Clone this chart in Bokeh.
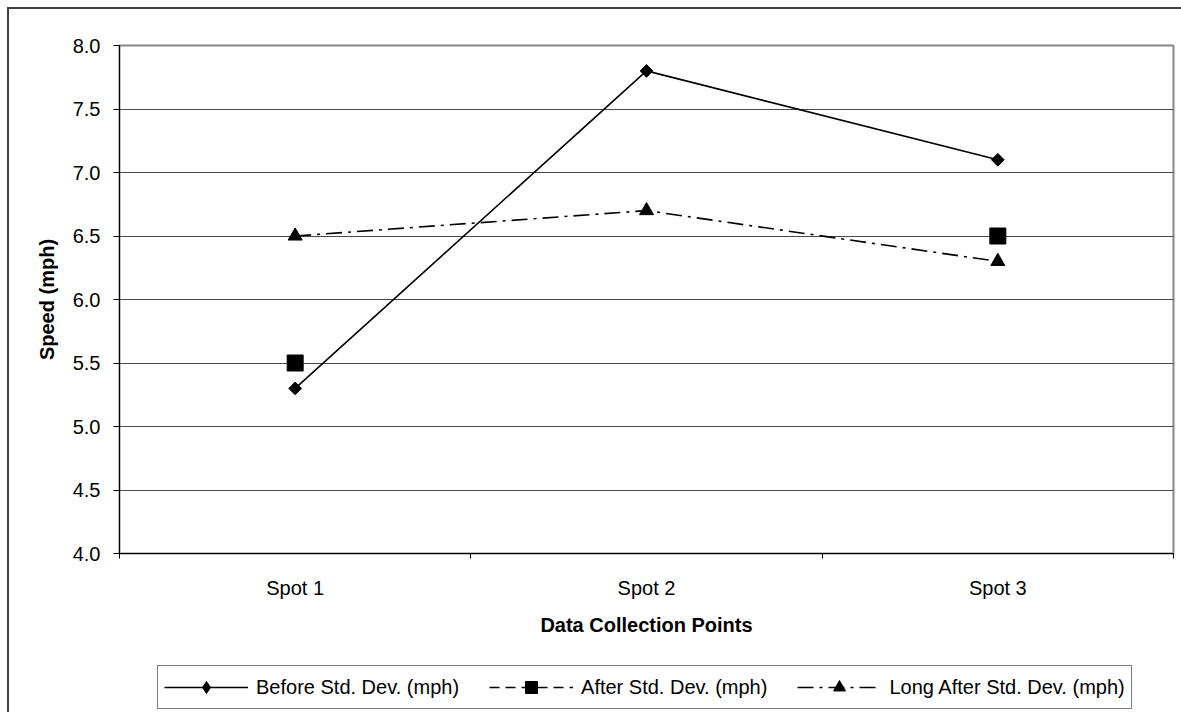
import math

from bokeh.plotting import figure
from bokeh.layouts import column
from bokeh.models import (Range1d, FixedTicker, PrintfTickFormatter, Legend, LegendItem)
from bokeh.embed import file_html
from bokeh.resources import INLINE

# Data collection points and speed standard deviations (mph)
categories = ["Spot 1", "Spot 2", "Spot 3"]
before_sd = [5.3, 7.8, 7.1]
after_sd = [5.5, float("nan"), 6.5]
long_after_sd = [6.5, 6.7, 6.3]
y_ticks = [4.0, 4.5, 5.0, 5.5, 6.0, 6.5, 7.0, 7.5, 8.0]

series_labels = ["Before Std. Dev. (mph)", "After Std. Dev. (mph)",
                 "Long After Std. Dev. (mph)"]

x_pos = [i + 0.5 for i in range(len(categories))]

FONT = "Liberation Sans"
FS = "20px"
W = 1172

p = figure(width=W, height=654, output_backend="svg", toolbar_location=None,
           x_range=Range1d(0, len(categories)), y_range=Range1d(y_ticks[0], y_ticks[-1]),
           min_border_left=110, min_border_right=8, min_border_top=36, min_border_bottom=110)

p.outline_line_color = "#888888"
p.outline_line_width = 2
p.background_fill_color = "white"
p.border_fill_color = "white"

# x axis: labels at category centres, tick marks on the boundaries
p.xaxis.ticker = FixedTicker(ticks=x_pos, minor_ticks=list(range(len(categories) + 1)))
p.xaxis.major_label_overrides = {x: c for x, c in zip(x_pos, categories)}
p.xaxis.major_tick_out = 0
p.xaxis.major_tick_in = 0
p.xaxis.minor_tick_out = 5
p.xaxis.minor_tick_in = 0
p.xaxis.major_label_standoff = 18
p.xaxis.axis_label = "Data Collection Points"
p.xaxis.axis_label_standoff = 12

# y axis
p.yaxis.ticker = FixedTicker(ticks=y_ticks, minor_ticks=[])
p.yaxis.formatter = PrintfTickFormatter(format="%.1f")
p.yaxis.major_tick_out = 6
p.yaxis.major_tick_in = 0
p.yaxis.major_label_standoff = 13
p.yaxis.axis_label = "Speed (mph)"
p.yaxis.axis_label_standoff = 12

for ax in (p.xaxis, p.yaxis):
    ax.axis_line_color = "black"
    ax.axis_line_width = 1
    ax.major_tick_line_color = "black"
    ax.minor_tick_line_color = "black"
    ax.major_label_text_font = FONT
    ax.major_label_text_font_size = FS
    ax.major_label_text_color = "black"
    ax.axis_label_text_font = FONT
    ax.axis_label_text_font_size = FS
    ax.axis_label_text_font_style = "bold"
    ax.axis_label_text_color = "black"

p.xgrid.visible = False
p.ygrid.ticker = FixedTicker(ticks=y_ticks)
p.ygrid.grid_line_color = "#4a4a4a"
p.ygrid.grid_line_width = 1

# Line and marker styles per series
styles = [
    dict(dash="solid", marker="square", size=9, angle=math.pi / 4, key_marker="diamond", key_size=14),
    dict(dash="10 6", marker="square", size=16, angle=0.0, key_marker="square", key_size=16),
    dict(dash="16 6 3 6", marker="triangle", size=14, angle=0.0, key_marker="triangle", key_size=14),
]

for ys, st in zip([before_sd, after_sd, long_after_sd], styles):
    p.line(x_pos, ys, line_color="black", line_width=1.6, line_dash=st["dash"])
    p.scatter(x_pos, ys, marker=st["marker"], size=st["size"], angle=st["angle"],
              fill_color="black", line_color="black")

# Legend strip under the chart: its own canvas holding only the legend keys.
# Inside the column its frame lines up with the chart frame above it.
lg = figure(width=W, height=49, output_backend="svg", toolbar_location=None,
            x_range=Range1d(0, 1), y_range=Range1d(0, 1), min_border=0,
            x_axis_location=None, y_axis_location=None)
lg.grid.visible = False
lg.outline_line_color = None
lg.background_fill_color = "white"
lg.border_fill_color = "white"

nan = float("nan")
items = []
for label, st in zip(series_labels, styles):
    # key renderers only: a single undefined point, so nothing is drawn in the strip
    ln = lg.line([nan], [nan], line_color="black", line_width=1.6, line_dash=st["dash"])
    mk = lg.scatter([nan], [nan], marker=st["key_marker"], size=st["key_size"],
                    fill_color="black", line_color="black")
    items.append(LegendItem(label=label, renderers=[ln, mk]))

legend = Legend(items=items, orientation="horizontal", location=(38, 3))
legend.label_text_font = FONT
legend.label_text_font_size = FS
legend.label_text_color = "black"
legend.glyph_width = 84
legend.glyph_height = 30
legend.label_height = 30
legend.label_standoff = 8
legend.spacing = 30
legend.padding = 6
legend.margin = 0
legend.border_line_color = "black"
legend.border_line_width = 1
legend.background_fill_alpha = 1
legend.click_policy = "none"
lg.add_layout(legend, "center")

page = column(p, lg, spacing=0)
page.styles = {"margin-left": "7px", "margin-top": "7px",
               "border-left": "2px solid #404040", "border-top": "2px solid #404040"}

open("out.html", "w").write(file_html(page, INLINE))
